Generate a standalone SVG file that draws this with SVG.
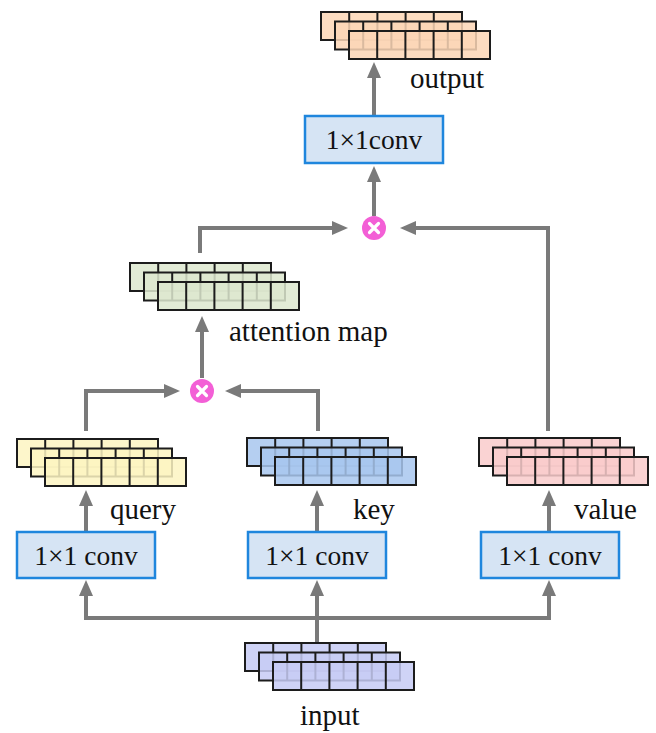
<svg xmlns="http://www.w3.org/2000/svg" xmlns:xlink="http://www.w3.org/1999/xlink" width="656" height="733" viewBox="0 0 656 733">
  <style>
    .lbl { font-family: "Liberation Serif", "Times New Roman", serif; font-size: 29px; fill: #111; }
    .conv rect { fill: #d6e4f4; stroke: #1f86dd; stroke-width: 2.5; }
    .conv text { font-family: "Liberation Serif", "Times New Roman", serif; font-size: 27.5px; fill: #111; text-anchor: middle; }
    .stack { stroke: #1c1c1c; stroke-width: 2; fill-opacity: 0.85; }
    .wire { fill: none; stroke: #7a7a7a; stroke-width: 4; stroke-linejoin: miter; }
    .arr { marker-end: url(#head); }
    .mul circle { fill: #f35fd6; }
    .mul path { stroke: #fff; stroke-width: 3.2; stroke-linecap: round; }
  </style>
  <defs>
    <marker id="head" markerUnits="userSpaceOnUse" viewBox="0 0 16 14" markerWidth="16" markerHeight="14" refX="2" refY="7" orient="auto">
      <path d="M0,0 L16,7 L0,14 z" fill="#7a7a7a"/>
    </marker>
    <!-- one feature-map slice: 5 cells -->
    <g id="layer">
      <rect width="141" height="28"/>
      <path d="M28.2 0V28M56.4 0V28M84.6 0V28M112.8 0V28" fill="none"/>
    </g>
  </defs>

  <!-- connectors -->
  <g id="connectors">
    <!-- input fan-out -->
    <path class="wire arr" d="M317 643 V594"/>
    <path class="wire" d="M86 594 V618 H549 V594"/>
    <path class="wire arr" d="M86 618 V594"/>
    <path class="wire arr" d="M549 618 V594"/>
    <!-- conv to feature maps -->
    <path class="wire arr" d="M86 532 V504"/>
    <path class="wire arr" d="M317 532 V504"/>
    <path class="wire arr" d="M549 532 V504"/>
    <!-- query / key to product -->
    <path class="wire arr" d="M86 431 V391 H166"/>
    <path class="wire arr" d="M318 431 V391 H239"/>
    <!-- product to attention map -->
    <path class="wire arr" d="M202 378 V330"/>
    <!-- attention map / value to product -->
    <path class="wire arr" d="M200 253 V228 H334"/>
    <path class="wire arr" d="M548 431 V228 H414"/>
    <!-- product to conv, conv to output -->
    <path class="wire arr" d="M374 216 V180"/>
    <path class="wire arr" d="M374 115 V76"/>
  </g>

  <!-- feature maps -->
  <g id="output-map" class="stack" fill="#fbd6b6">
    <use xlink:href="#layer" x="321" y="12"/>
    <use xlink:href="#layer" x="335" y="21.5"/>
    <use xlink:href="#layer" x="349" y="31"/>
  </g>
  <g id="attention-map" class="stack" fill="#dde8cf">
    <use xlink:href="#layer" x="130" y="263"/>
    <use xlink:href="#layer" x="144" y="272.5"/>
    <use xlink:href="#layer" x="158" y="282"/>
  </g>
  <g id="query-map" class="stack" fill="#fdf4c2">
    <use xlink:href="#layer" x="17" y="439"/>
    <use xlink:href="#layer" x="31" y="448.5"/>
    <use xlink:href="#layer" x="45" y="458"/>
  </g>
  <g id="key-map" class="stack" fill="#a8c7ef">
    <use xlink:href="#layer" x="247" y="438"/>
    <use xlink:href="#layer" x="261" y="447.5"/>
    <use xlink:href="#layer" x="275" y="457"/>
  </g>
  <g id="value-map" class="stack" fill="#f9cbcb">
    <use xlink:href="#layer" x="479" y="438"/>
    <use xlink:href="#layer" x="493" y="447.5"/>
    <use xlink:href="#layer" x="507" y="457"/>
  </g>
  <g id="input-map" class="stack" fill="#c7cbf4">
    <use xlink:href="#layer" x="245" y="643"/>
    <use xlink:href="#layer" x="259" y="652.5"/>
    <use xlink:href="#layer" x="273" y="662"/>
  </g>

  <!-- 1x1 convolutions -->
  <g id="conv-out" class="conv">
    <rect x="305" y="116" width="138" height="47"/>
    <text x="374" y="149">1×1conv</text>
  </g>
  <g id="conv-query" class="conv">
    <rect x="17" y="532" width="138" height="46"/>
    <text x="86" y="565">1×1 conv</text>
  </g>
  <g id="conv-key" class="conv">
    <rect x="248" y="532" width="138" height="46"/>
    <text x="317" y="565">1×1 conv</text>
  </g>
  <g id="conv-value" class="conv">
    <rect x="481" y="532" width="138" height="46"/>
    <text x="550" y="565">1×1 conv</text>
  </g>

  <!-- matrix products -->
  <g id="mul-qk" class="mul">
    <circle cx="202" cy="391" r="12"/>
    <path d="M197.5 386.5 L206.5 395.5 M206.5 386.5 L197.5 395.5"/>
  </g>
  <g id="mul-av" class="mul">
    <circle cx="374" cy="228" r="12"/>
    <path d="M369.5 223.5 L378.5 232.5 M378.5 223.5 L369.5 232.5"/>
  </g>

  <!-- labels -->
  <g id="labels">
    <text class="lbl" x="410" y="88">output</text>
    <text class="lbl" x="229" y="341">attention map</text>
    <text class="lbl" x="110" y="519">query</text>
    <text class="lbl" x="353" y="519">key</text>
    <text class="lbl" x="574" y="519">value</text>
    <text class="lbl" x="300" y="725">input</text>
  </g>
</svg>
